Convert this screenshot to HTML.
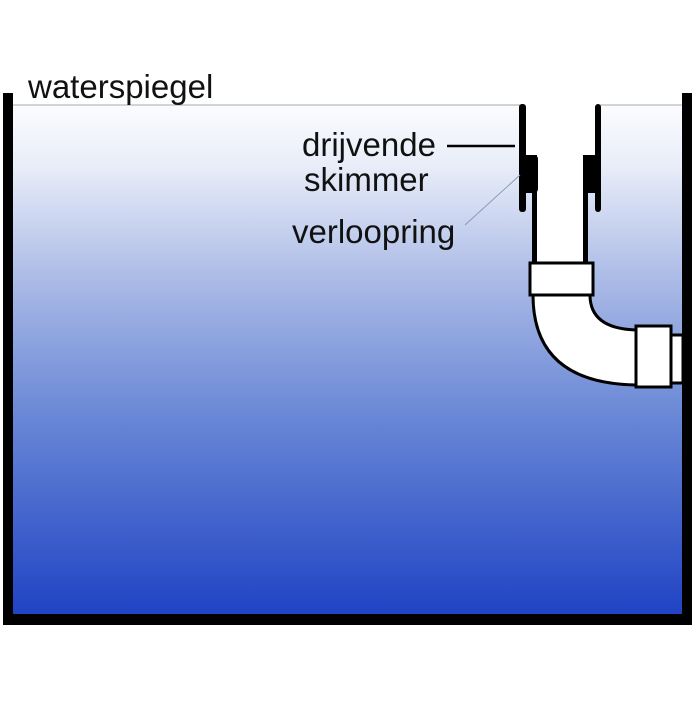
<!DOCTYPE html>
<html><head><meta charset="utf-8"><style>
html,body{margin:0;padding:0;background:#fff;}
</style></head><body>
<svg width="700" height="700" viewBox="0 0 700 700" xmlns="http://www.w3.org/2000/svg">
<defs>
<linearGradient id="g" x1="0" y1="0" x2="0" y2="1">
<stop offset="0" stop-color="#fbfcfe"/>
<stop offset="0.12" stop-color="#e8edf8"/>
<stop offset="0.35" stop-color="#a9b9e6"/>
<stop offset="0.6" stop-color="#6b89d6"/>
<stop offset="1" stop-color="#1f43c4"/>
</linearGradient>
</defs>
<rect x="12" y="105" width="671" height="510" fill="url(#g)"/>
<line x1="12" y1="105" x2="683" y2="105" stroke="#aaa" stroke-width="1"/>
<rect x="3" y="93" width="10" height="532" fill="#000"/>
<rect x="682" y="93" width="10" height="532" fill="#000"/>
<rect x="3" y="614" width="689" height="11" fill="#000"/>
<rect x="520" y="100" width="80" height="58" fill="#fff"/>
<rect x="536" y="150" width="48" height="115" fill="#fff"/>
<path d="M533 295 Q533 385 640 385 L640 330 Q590 330 590 295 Z" fill="#fff" stroke="#000" stroke-width="3"/>
<rect x="519" y="104" width="7" height="108" rx="3" fill="#000"/>
<rect x="595" y="104" width="6" height="108" rx="3" fill="#000"/>
<rect x="519" y="155" width="19" height="38" rx="4" fill="#000"/>
<rect x="583" y="155" width="18" height="38" rx="4" fill="#000"/>
<rect x="532" y="155" width="5" height="110" fill="#000"/>
<rect x="583" y="155" width="5" height="110" fill="#000"/>
<rect x="530" y="263" width="63" height="32" fill="#fff" stroke="#000" stroke-width="3"/>
<rect x="671" y="335" width="12" height="48" fill="#fff" stroke="#000" stroke-width="3"/>
<rect x="636" y="326" width="35" height="61" fill="#fff" stroke="#000" stroke-width="3"/>
<g font-family="'Liberation Sans', Arial, sans-serif" font-size="33" fill="#111">
<text x="28" y="98">waterspiegel</text>
<text x="302" y="156">drijvende</text>
<text x="304" y="191">skimmer</text>
<text x="292" y="243">verloopring</text>
</g>
<line x1="447" y1="146" x2="515" y2="146" stroke="#000" stroke-width="2.5"/>
<line x1="465" y1="225" x2="520" y2="175" stroke="#8899bb" stroke-width="1"/>
</svg>
</body></html>
